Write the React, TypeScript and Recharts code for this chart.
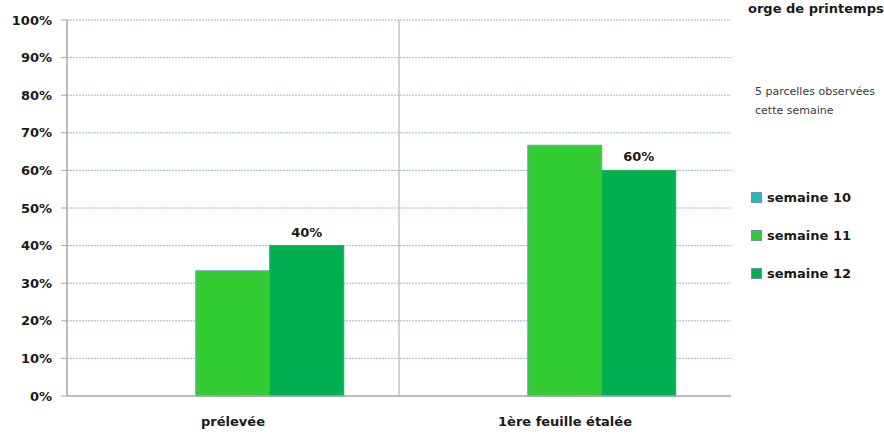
import React from "react";
import { BarChart, Bar, XAxis, YAxis, CartesianGrid, Legend, LabelList } from "recharts";

const categories = ["prélevée", "1ère feuille étalée"];
const semaine10: (number | null)[] = [null, null];
const semaine11: (number | null)[] = [0.333, 0.667];
const semaine12: (number | null)[] = [0.4, 0.6];
const yTicks = [0, 0.1, 0.2, 0.3, 0.4, 0.5, 0.6, 0.7, 0.8, 0.9, 1];
const seriesNames = ["semaine 10", "semaine 11", "semaine 12"];
const seriesColors = ["#22bfae", "#33cc33", "#00b050"];
const title = "orge de printemps";
const noteLines = ["5 parcelles observées", "cette semaine"];

const data = categories.map((c, i) => ({
  cat: c,
  s10: semaine10[i],
  s11: semaine11[i],
  s12: semaine12[i],
}));

const FONT = "'DejaVu Sans', sans-serif";

const pct = (v: number) => `${Math.round(v * 100)}%`;

const LegendContent = (props: any) => {
  const payload = props.payload || [];
  return (
    <div style={{ fontFamily: FONT, fontWeight: "bold", fontSize: 13, color: "#1a1a1a" }}>
      {payload.map((p: any, i: number) => (
        <div key={i} style={{ display: "flex", alignItems: "center", height: 38 }}>
          <span
            style={{
              display: "inline-block",
              width: 9,
              height: 9,
              background: p.color,
              border: "1px solid #6f8fc0",
              marginRight: 5,
            }}
          />
          <span>{p.value}</span>
        </div>
      ))}
    </div>
  );
};

export default function App() {
  return (
    <div style={{ position: "absolute", left: 0, top: 0, width: 884, height: 434, background: "#fff" }}>
      <BarChart
        width={884}
        height={434}
        data={data}
        margin={{ top: 20, right: 23, bottom: 0, left: 0 }}
        barGap={0}
        barCategoryGap="16.5%"
      >
        <CartesianGrid
          horizontal={true}
          vertical={false}
          stroke="#9fb5e0"
          strokeDasharray="2 1"
          horizontalValues={yTicks.filter((t) => t > 0)}
        />
        <CartesianGrid
          horizontal={false}
          vertical={true}
          stroke="#a6a6a6"
          verticalCoordinatesGenerator={({ offset }: any) => [offset.left + offset.width / 2]}
        />
        <XAxis
          dataKey="cat"
          height={38}
          axisLine={{ stroke: "#a6a6a6", strokeWidth: 1.5 }}
          tickLine={false}
          tickMargin={15}
          tick={{ fontFamily: FONT, fontWeight: "bold", fontSize: 13, fill: "#1a1a1a" }}
        />
        <YAxis
          width={67}
          domain={[0, 1]}
          ticks={yTicks}
          interval={0}
          tickFormatter={pct}
          axisLine={{ stroke: "#a6a6a6", strokeWidth: 1.5 }}
          tickLine={{ stroke: "#a6a6a6" }}
          tickSize={6}
          tickMargin={9}
          tick={{ fontFamily: FONT, fontWeight: "bold", fontSize: 13, fill: "#1a1a1a" }}
        />
        <Legend
          layout="horizontal"
          verticalAlign="middle"
          align="right"
          content={<LegendContent />}
          wrapperStyle={{ position: "absolute", left: 751, top: 178, width: 130 }}
        />
        <Bar dataKey="s10" name={seriesNames[0]} fill={seriesColors[0]} stroke="#6f8fc0" strokeWidth={1} isAnimationActive={false} />
        <Bar dataKey="s11" name={seriesNames[1]} fill={seriesColors[1]} stroke="#7b97c9" strokeWidth={1} isAnimationActive={false} />
        <Bar dataKey="s12" name={seriesNames[2]} fill={seriesColors[2]} stroke="#19b35c" strokeWidth={1} isAnimationActive={false}>
          <LabelList
            dataKey="s12"
            position="top"
            offset={9}
            formatter={(v: any) => pct(Number(v))}
            style={{ fontFamily: FONT, fontWeight: "bold", fontSize: 13, fill: "#1a1a1a" }}
          />
        </Bar>
      </BarChart>
      <div
        style={{
          position: "absolute",
          left: 748,
          top: 1,
          fontFamily: FONT,
          fontWeight: "bold",
          fontSize: 13,
          color: "#1a1a1a",
          whiteSpace: "nowrap",
        }}
      >
        {title}
      </div>
      <div
        style={{
          position: "absolute",
          left: 755,
          top: 82,
          fontFamily: FONT,
          fontSize: 11,
          lineHeight: "19px",
          color: "#3a3a3a",
          whiteSpace: "nowrap",
        }}
      >
        {noteLines.map((l, i) => (
          <div key={i}>{l}</div>
        ))}
      </div>
    </div>
  );
}
